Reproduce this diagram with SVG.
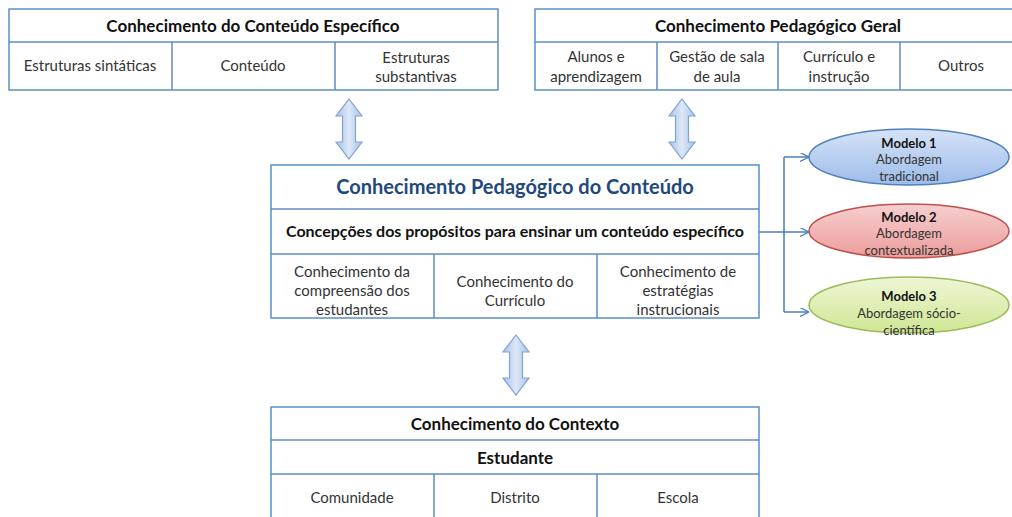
<svg xmlns="http://www.w3.org/2000/svg" width="1012" height="517" viewBox="0 0 1012 517">
<style>
.box{fill:#fff;stroke:#5b8ec7;stroke-width:1.5}
.ln{stroke:#5b8ec7;stroke-width:1.5;fill:none}
text{font-family:Lato,"Liberation Sans",sans-serif;text-anchor:middle}
.t{font-size:17px;font-weight:bold;fill:#111}
.c{font-size:15px;fill:#333}
.m{font-size:13px;fill:#333}
.mb{font-size:13px;font-weight:bold;fill:#111}
.conn{stroke:#4a7ebf;stroke-width:1.5;fill:none}
</style>
<defs>
<linearGradient id="ag" x1="0" y1="0" x2="1" y2="0">
<stop offset="0" stop-color="#a9c2e8"/><stop offset="0.5" stop-color="#dde8f7"/><stop offset="1" stop-color="#a9c2e8"/>
</linearGradient>
<linearGradient id="gb" x1="0" y1="0" x2="0" y2="1"><stop offset="0" stop-color="#d6e3f7"/><stop offset="1" stop-color="#9dbcea"/></linearGradient>
<linearGradient id="gr" x1="0" y1="0" x2="0" y2="1"><stop offset="0" stop-color="#f6cfcf"/><stop offset="1" stop-color="#ec9d9b"/></linearGradient>
<linearGradient id="gg" x1="0" y1="0" x2="0" y2="1"><stop offset="0" stop-color="#eef6d6"/><stop offset="1" stop-color="#cfe793"/></linearGradient>
<path id="dbl" d="M0,0 L13,17 L6.5,17 L6.5,43 L13,43 L0,60 L-13,43 L-6.5,43 L-6.5,17 L-13,17 Z" fill="url(#ag)" stroke="#7fa3d3" stroke-width="1.2"/>
<marker id="ah" viewBox="0 0 10 10" refX="9" refY="5" markerWidth="9" markerHeight="9" markerUnits="userSpaceOnUse" orient="auto">
<path d="M0,0 L10,5 L0,10" fill="none" stroke="#4a7ebf" stroke-width="1.5"/>
</marker>
</defs>

<g id="conteudo-especifico">
<rect class="box" x="9" y="9" width="489" height="81"/>
<line class="ln" x1="9" y1="42" x2="498" y2="42"/>
<line class="ln" x1="172" y1="42" x2="172" y2="90"/>
<line class="ln" x1="335" y1="42" x2="335" y2="90"/>
<text class="t" x="253" y="32">Conhecimento do Conteúdo Específico</text>
<text class="c" x="90" y="71">Estruturas sintáticas</text>
<text class="c" x="253" y="71">Conteúdo</text>
<text class="c" x="416" y="63">Estruturas</text>
<text class="c" x="416" y="82">substantivas</text>
</g>

<g id="pedagogico-geral">
<rect class="box" x="535" y="9" width="486" height="81"/>
<line class="ln" x1="535" y1="42" x2="1012" y2="42"/>
<line class="ln" x1="657" y1="42" x2="657" y2="90"/>
<line class="ln" x1="778" y1="42" x2="778" y2="90"/>
<line class="ln" x1="900" y1="42" x2="900" y2="90"/>
<text class="t" x="778" y="32">Conhecimento Pedagógico Geral</text>
<text class="c" x="596" y="62">Alunos e</text>
<text class="c" x="596" y="82">aprendizagem</text>
<text class="c" x="717" y="62">Gestão de sala</text>
<text class="c" x="717" y="82">de aula</text>
<text class="c" x="839" y="62">Currículo e</text>
<text class="c" x="839" y="82">instrução</text>
<text class="c" x="961" y="71">Outros</text>
</g>

<g id="pck">
<rect class="box" x="271" y="165" width="488" height="153"/>
<line class="ln" x1="271" y1="209" x2="759" y2="209"/>
<line class="ln" x1="271" y1="254" x2="759" y2="254"/>
<line class="ln" x1="434" y1="254" x2="434" y2="318"/>
<line class="ln" x1="597" y1="254" x2="597" y2="318"/>
<text x="515" y="194" style="font-size:20px;font-weight:bold;fill:#1f497d">Conhecimento Pedagógico do Conteúdo</text>
<text class="t" x="515" y="237" style="font-size:16px">Concepções dos propósitos para ensinar um conteúdo específico</text>
<text class="c" x="352" y="277">Conhecimento da</text>
<text class="c" x="352" y="296">compreensão dos</text>
<text class="c" x="352" y="315">estudantes</text>
<text class="c" x="515" y="287">Conhecimento do</text>
<text class="c" x="515" y="306">Currículo</text>
<text class="c" x="678" y="277">Conhecimento de</text>
<text class="c" x="678" y="296">estratégias</text>
<text class="c" x="678" y="315">instrucionais</text>
</g>

<g id="contexto">
<rect class="box" x="271" y="407" width="488" height="120"/>
<line class="ln" x1="271" y1="440" x2="759" y2="440"/>
<line class="ln" x1="271" y1="474" x2="759" y2="474"/>
<line class="ln" x1="434" y1="474" x2="434" y2="517"/>
<line class="ln" x1="597" y1="474" x2="597" y2="517"/>
<text class="t" x="515" y="430">Conhecimento do Contexto</text>
<text class="t" x="515" y="464">Estudante</text>
<text class="c" x="352" y="503">Comunidade</text>
<text class="c" x="515" y="503">Distrito</text>
<text class="c" x="678" y="503">Escola</text>
</g>

<g id="modelo1">
<ellipse cx="909" cy="157" rx="100" ry="28" fill="url(#gb)" stroke="#4f81bd" stroke-width="1.5"/>
<text class="mb" x="909" y="148">Modelo 1</text>
<text class="m" x="909" y="164">Abordagem</text>
<text class="m" x="909" y="181">tradicional</text>
</g>
<g id="modelo2">
<ellipse cx="909" cy="231" rx="100" ry="27" fill="url(#gr)" stroke="#c0504d" stroke-width="1.5"/>
<text class="mb" x="909" y="222">Modelo 2</text>
<text class="m" x="909" y="238">Abordagem</text>
<text class="m" x="909" y="255">contextualizada</text>
</g>
<g id="modelo3">
<ellipse cx="909" cy="305" rx="100" ry="28" fill="url(#gg)" stroke="#9bbb59" stroke-width="1.5"/>
<text class="mb" x="909" y="301">Modelo 3</text>
<text class="m" x="909" y="318">Abordagem sócio-</text>
<text class="m" x="909" y="335">científica</text>
</g>

<g id="connectors">
<use href="#dbl" x="349" y="99"/>
<use href="#dbl" x="682" y="99"/>
<use href="#dbl" x="516" y="335"/>
<polyline class="conn" points="759,232 784,232"/>
<polyline class="conn" points="784,157 784,312"/>
<line class="conn" x1="784" y1="157" x2="808" y2="157" marker-end="url(#ah)"/>
<line class="conn" x1="784" y1="232" x2="808" y2="232" marker-end="url(#ah)"/>
<line class="conn" x1="784" y1="312" x2="808" y2="312" marker-end="url(#ah)"/>
</g>
</svg>
